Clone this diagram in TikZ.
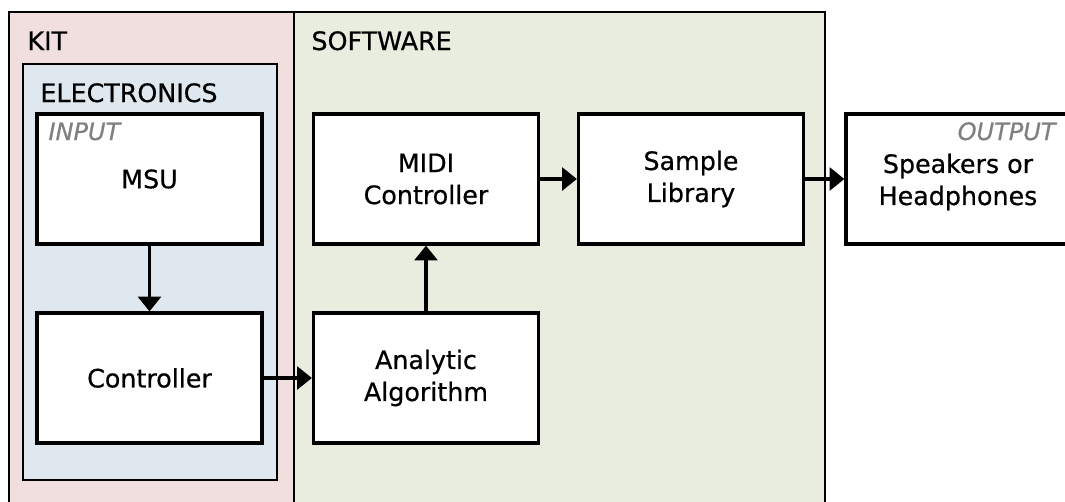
\documentclass[tikz,border=0pt]{standalone}
\usepackage{fontspec}
\setmainfont{DejaVu Sans}[FakeBold=0.6]
\usetikzlibrary{arrows.meta,positioning}

\definecolor{kitfill}{RGB}{241,223,223}
\definecolor{softfill}{RGB}{233,237,224}
\definecolor{elecfill}{RGB}{222,232,238}
\definecolor{taggrey}{RGB}{128,128,128}

\tikzset{every picture/.style={line width=0.75pt}}
\tikzset{
  blockbox/.style={draw, fill=white, line width=2.4pt, minimum width=168.75pt, minimum height=97.5pt,
    align=center, inner sep=0pt, font=\fontsize{19}{24}\selectfont},
  grouplabel/.style={anchor=base west, inner sep=0pt, font=\fontsize{19}{24}\selectfont},
  taglabel/.style={inner sep=0pt, text=taggrey, font=\fontsize{18}{20}\selectfont\itshape},
  flow/.style={line width=2.4pt, -{Triangle[length=11pt,width=17pt]}}
}

\begin{document}
\begin{tikzpicture}[x=0.75pt,y=0.75pt,yscale=-1,xscale=1]
\useasboundingbox (0,0) rectangle (1065,501);

%Shape: Rectangle [id:kit]
\draw [fill=kitfill, line width=1.5pt] (9,12) rectangle (294,515);
%Shape: Rectangle [id:software]
\draw [fill=softfill, line width=1.5pt] (294,12) rectangle (825,515);
%Shape: Rectangle [id:electronics]
\draw [fill=elecfill, line width=1.5pt] (23,64) rectangle (277,480);

% Text Node
\node [grouplabel] (kitlbl) at (27,50) {KIT};
% Text Node
\node [grouplabel] (softlbl) at (311,50) {SOFTWARE};
% Text Node
\node [grouplabel] (eleclbl) at (40,102) {ELECTRONICS};

% Blocks
\node [blockbox] (msu) at (149.5,179) {MSU};
\node [blockbox] (ctrl) at (149.5,378) {Controller};
\node [blockbox] (algo) at (426,378) {Analytic\\Algorithm};
\node [blockbox] (midi) at (426,179) {MIDI\\Controller};
\node [blockbox] (lib) at (691,179) {Sample\\Library};
\node [blockbox, minimum width=171.75pt] (out) at (960.5,179) {};
% Text Node
\node [align=center, inner sep=0pt, font=\fontsize{19}{24}\selectfont] (outtxt) at (958,182) {Speakers or\\Headphones};

% Text Node
\node [taglabel, anchor=base west] (inlbl) at (48,140) {INPUT};
% Text Node
\node [taglabel, anchor=base east] (outlbl) at (1056,140) {OUTPUT};

% Connectors
\draw [flow] (msu) -- (ctrl);
\draw [flow] (ctrl) -- (algo);
\draw [flow] (algo) -- (midi);
\draw [flow] (midi) -- (lib);
\draw [flow] (lib) -- (out);

\end{tikzpicture}
\end{document}
